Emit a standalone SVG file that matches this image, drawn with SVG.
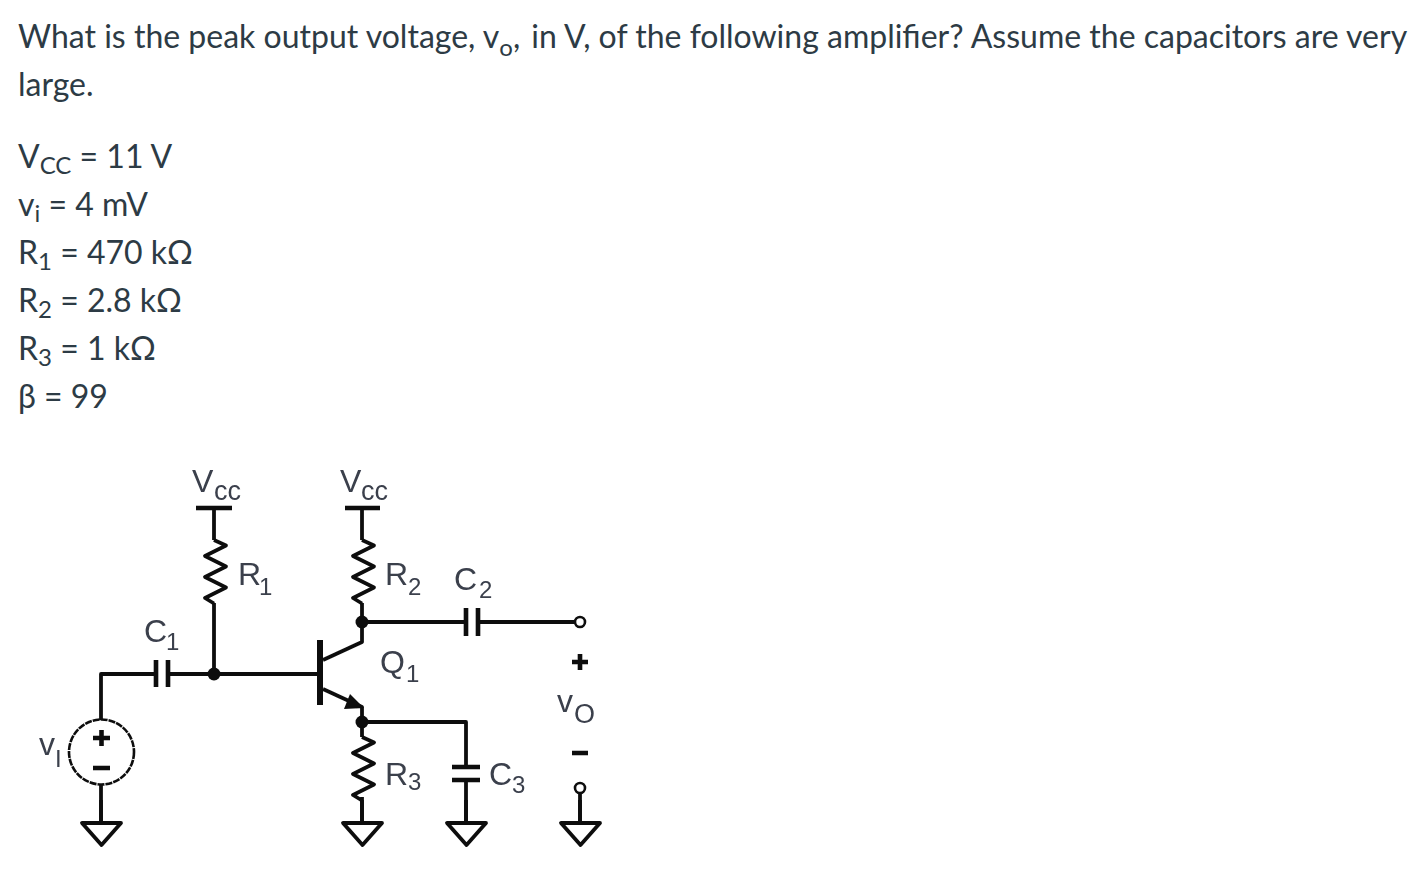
<svg xmlns="http://www.w3.org/2000/svg" width="1428" height="884" viewBox="0 0 1428 884">
<style>
.q{font-family:Lato,"Noto Sans",sans-serif;font-size:32px;fill:#2d3b45}
.s{font-size:24px}
.c{font-family:"Liberation Sans",Arial,sans-serif;font-size:32px;fill:#3a3f4c}
.b{font-size:24px}
.l{font-size:27px}
.w{fill:none;stroke:#111;stroke-width:3.8;stroke-linejoin:round}
.k{stroke-width:4.6}
.d{fill:#111}
.t{fill:#fff;stroke:#111;stroke-width:2.6}
</style>
<defs>
<filter id="soft" x="-5%" y="-5%" width="110%" height="110%"><feGaussianBlur stdDeviation="0.5"/></filter>
<path id="res" d="M0 0l12 5.500-21 10.500 21 10.500-21 10.500 21 10.500-21 10.500 9 5.500"/>
<path id="gnd" d="M0 0V23M-19 23H20L0.500 45Z"/>
</defs>
<g id="question">
<text class="q" x="18" y="48">What is the peak output voltage, v<tspan class="s" dy="8">o</tspan><tspan dy="-8">,</tspan><tspan dx="3"> in V, of the following amplifier? Assume the capacitors are very</tspan></text>
<text class="q" x="18" y="96">large.</text>
<text class="q" x="18" y="168">V<tspan class="s" dy="6">CC</tspan><tspan dy="-6"> = 11 V</tspan></text>
<text class="q" x="18" y="216">v<tspan class="s" dy="6">i</tspan><tspan dy="-6"> = 4 mV</tspan></text>
<text class="q" x="18" y="264">R<tspan class="s" dy="6">1</tspan><tspan dy="-6"> = 470 kΩ</tspan></text>
<text class="q" x="18" y="312">R<tspan class="s" dy="6">2</tspan><tspan dy="-6"> = 2.8 kΩ</tspan></text>
<text class="q" x="18" y="360">R<tspan class="s" dy="6">3</tspan><tspan dy="-6"> = 1 kΩ</tspan></text>
<text class="q" x="18" y="408">β = 99</text>
</g>
<g filter="url(#soft)">
<g id="connectors" class="w">
<path d="M214 508V540M214 603V674"/>
<path d="M101 720V674H156M168 674H320"/>
<path d="M362 508V540M362 603V642L323 660"/>
<path d="M362 622H466M478 622H575"/>
<path d="M323 689L362 707V737M362 797V823"/>
<path d="M362 722H466V767M466 780V823"/>
<path d="M101 784V823"/>
<path d="M580 793V823"/>
</g>
<g id="vcc1" class="w"><path class="k" d="M196 508H232"/></g>
<g id="vcc2" class="w"><path class="k" d="M345 508H380"/></g>
<g id="r1" class="w"><use href="#res" x="214" y="540"/></g>
<g id="r2" class="w"><use href="#res" x="362" y="540"/></g>
<g id="r3" class="w"><use href="#res" x="362" y="737"/></g>
<g id="c1" class="w"><path class="k" d="M156 660V687M168 660V687"/></g>
<g id="c2" class="w"><path class="k" d="M466 608V636M478 608V636"/></g>
<g id="c3" class="w"><path class="k" d="M452 767H480M452 780H480"/></g>
<g id="q1" class="w"><path d="M320 640V705" style="stroke-width:6"/><path class="d" stroke="none" d="M364 708L344 709L350 694Z"/></g>
<g id="vi"><circle cx="101.500" cy="752" r="32.500" fill="none" stroke="#111" stroke-width="2.600" stroke-dasharray="7 1"/>
<path class="w k" d="M93 738H110M101.500 730V746M93 768H110"/></g>
<g id="junctions"><circle class="d" cx="214" cy="674" r="6.500"/><circle class="d" cx="362" cy="622" r="6.500"/><circle class="d" cx="362" cy="722" r="6.500"/></g>
<g id="term-top"><circle class="t" cx="580" cy="622" r="5"/></g>
<g id="term-bot"><circle class="t" cx="580" cy="788" r="5"/></g>
<g id="polarity" class="w k"><path d="M572 662H588M580 654V670M572 753H588"/></g>
<g id="gnd1" class="w"><use href="#gnd" x="101" y="800"/></g>
<g id="gnd2" class="w"><use href="#gnd" x="362" y="800"/></g>
<g id="gnd3" class="w"><use href="#gnd" x="466" y="800"/></g>
<g id="gnd4" class="w"><use href="#gnd" x="580" y="800"/></g>
<g id="labels">
<text class="c" x="192" y="492">V<tspan class="l" x="214" y="500">cc</tspan></text>
<text class="c" x="340" y="492">V<tspan class="l" x="361" y="500">cc</tspan></text>
<text class="c" x="238" y="585">R<tspan class="b" x="259" y="595">1</tspan></text>
<text class="c" x="385" y="585">R<tspan class="b" x="408" y="595">2</tspan></text>
<text class="c" x="454" y="590">C<tspan class="b" x="479" y="598">2</tspan></text>
<text class="c" x="144" y="642">C<tspan class="b" x="166" y="650">1</tspan></text>
<text class="c" x="380" y="673">Q<tspan class="b" x="406" y="682">1</tspan></text>
<text class="c" x="557" y="712">v<tspan class="l" x="574" y="723">O</tspan></text>
<text class="c" x="385" y="785">R<tspan class="b" x="408" y="790">3</tspan></text>
<text class="c" x="489" y="785">C<tspan class="b" x="512" y="793">3</tspan></text>
<text class="c" x="39" y="755">v<tspan class="b" x="55" y="767">I</tspan></text>
</g>
</g>
</svg>
